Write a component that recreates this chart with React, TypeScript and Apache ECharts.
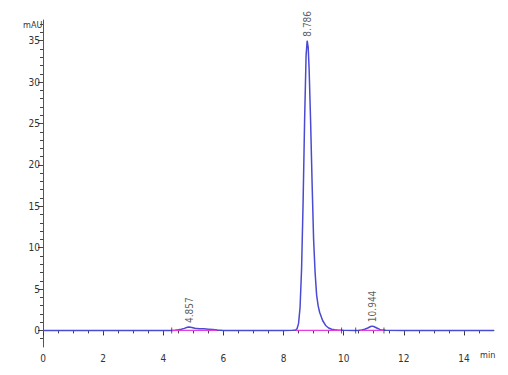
import React, { useEffect, useRef } from "react";
import * as echarts from "echarts";

// Chromatogram trace (min, mAU)
const traceTime = [
  0, 1, 2, 3, 4, 4.3, 4.4, 4.5, 4.6, 4.7, 4.8, 4.857, 4.95, 5.05, 5.2, 5.35, 5.5, 5.65, 5.8, 6.0,
  7, 8, 8.3, 8.4, 8.45, 8.5, 8.55, 8.6, 8.65, 8.7, 8.75, 8.786, 8.82, 8.85, 8.9, 8.95, 9.0, 9.05,
  9.1, 9.15, 9.2, 9.3, 9.4, 9.5, 9.6, 9.7, 9.8, 10, 10.4, 10.5, 10.6, 10.7, 10.8, 10.9, 10.944,
  11.0, 11.1, 11.2, 11.3, 11.4, 12, 13, 14, 15,
];
const traceSignal = [
  0, 0, 0, 0, 0, 0, 0.03, 0.08, 0.14, 0.25, 0.38, 0.42, 0.36, 0.26, 0.2, 0.19, 0.15, 0.1, 0.04, 0,
  0, 0, 0.01, 0.04, 0.2, 0.85, 2.8, 7.4, 15.3, 25.2, 33.2, 35.0, 34.2, 31.7, 25.3, 17.8, 11, 7.0,
  4.3, 3.0, 2.2, 1.2, 0.6, 0.3, 0.15, 0.08, 0.04, 0.01, 0, 0.02, 0.06, 0.15, 0.3, 0.48, 0.52,
  0.48, 0.3, 0.12, 0.04, 0.01, 0, 0, 0, 0,
];

// Integration baselines
const baseStart = [4.28, 8.4, 10.55];
const baseEnd = [5.78, 9.93, 11.34];
// Integration event marks
const eventTimes = [4.28, 9.93, 10.4, 11.34];

// Peak labels
const peakTimes = [4.857, 8.786, 10.944];
const peakHeights = [0.42, 35.0, 0.52];
const peakLabels = ["4.857", "8.786", "10.944"];

// Axis ticks
const xMajor = [0, 2, 4, 6, 8, 10, 12, 14];
const xMinor = [0, 0.5, 1, 1.5, 2, 2.5, 3, 3.5, 4, 4.5, 5, 5.5, 6, 6.5, 7, 7.5, 8, 8.5, 9, 9.5, 10, 10.5, 11, 11.5, 12, 12.5, 13, 13.5, 14, 14.5];
const yMajor = [0, 5, 10, 15, 20, 25, 30, 35];
const yMinor = [-1, 0, 1, 2, 3, 4, 5, 6, 7, 8, 9, 10, 11, 12, 13, 14, 15, 16, 17, 18, 19, 20, 21, 22, 23, 24, 25, 26, 27, 28, 29, 30, 31, 32, 33, 34, 35, 36, 37];

const FONT = "'Liberation Sans Narrow', 'DejaVu Sans Condensed', 'Arial Narrow', sans-serif";

export default function App() {
  const ref = useRef<HTMLDivElement>(null);
  useEffect(() => {
    document.body.style.margin = "0";
    if (!ref.current) return;
    const chart = echarts.init(ref.current, null, { renderer: "svg" });
    const trace = traceTime.map((t, i) => [t, traceSignal[i]]);
    const baseSeries = baseStart.map((s, i) => ({
      type: "line",
      data: [[s, 0], [baseEnd[i], 0]],
      symbol: "none",
      lineStyle: { color: "#e23ee2", width: 1.2 },
      z: 3,
    }));
    const axisCommonX = {
      type: "value",
      min: 0,
      max: 15,
      position: "bottom",
      splitLine: { show: false },
    };
    const axisCommonY = {
      type: "value",
      min: -2,
      max: 37.5,
      position: "left",
      splitLine: { show: false },
    };
    chart.setOption({
      animation: false,
      backgroundColor: "#ffffff",
      grid: { left: 43, right: 14, top: 20, bottom: 28 },
      xAxis: [
        {
          ...axisCommonX,
          axisLine: { show: true, lineStyle: { color: "#555", width: 1 } },
          axisTick: { show: true, length: 5, customValues: xMajor, lineStyle: { color: "#333" } },
          axisLabel: { customValues: xMajor, color: "#333", fontSize: 10, fontFamily: FONT, margin: 6 },
        },
        {
          ...axisCommonX,
          axisLine: { show: false },
          axisTick: { show: true, length: 3, customValues: xMinor, lineStyle: { color: "#444" } },
          axisLabel: { show: false },
        },
      ],
      yAxis: [
        {
          ...axisCommonY,
          axisLine: { show: true, lineStyle: { color: "#555", width: 1 } },
          axisTick: { show: true, length: 5, customValues: yMajor, lineStyle: { color: "#333" } },
          axisLabel: { customValues: yMajor, color: "#333", fontSize: 10, fontFamily: FONT, margin: 3 },
        },
        {
          ...axisCommonY,
          axisLine: { show: false },
          axisTick: { show: true, length: 3, customValues: yMinor, lineStyle: { color: "#444" } },
          axisLabel: { show: false },
        },
      ],
      series: [
        {
          type: "line",
          data: trace,
          symbol: "none",
          lineStyle: { color: "#4a4ad2", width: 1.5 },
          z: 2,
        },
        ...baseSeries,
        {
          type: "scatter",
          data: eventTimes.map((t) => [t, 0]),
          symbol: "rect",
          symbolSize: [1, 6],
          itemStyle: { color: "#333" },
          z: 4,
        },
        {
          type: "scatter",
          data: peakTimes.map((t, i) => ({ value: [t, peakHeights[i]], name: peakLabels[i] })),
          symbolSize: 0,
          label: {
            show: true,
            position: "top",
            distance: 4,
            rotate: 90,
            align: "left",
            verticalAlign: "middle",
            formatter: (p: any) => p.name,
            color: "#333",
            fontSize: 10,
            fontFamily: FONT,
          },
          z: 5,
        },
      ],
      graphic: [
        { type: "text", left: 23, top: 20, style: { text: "mAU", fill: "#333", fontSize: 9, fontFamily: FONT } },
        { type: "text", left: 480, top: 350, style: { text: "min", fill: "#333", fontSize: 9, fontFamily: FONT } },
      ],
    });
    return () => chart.dispose();
  }, []);
  return <div ref={ref} style={{ width: 508, height: 375 }} />;
}
